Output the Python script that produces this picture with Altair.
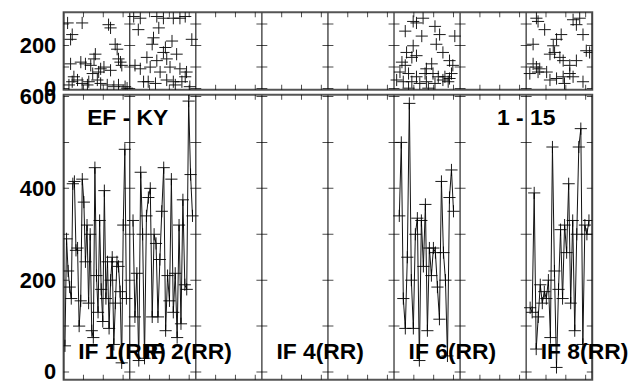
import altair as alt
import pandas as pd
import numpy as np

# ---------------- data ----------------
PANEL_COUNT = 8
IF_LABELS = ["IF 1(RR)", "IF 2(RR)", "IF 4(RR)", "IF 6(RR)", "IF 8(RR)"]
IF_LABEL_PANELS = [0, 1, 3, 5, 7]
SOURCE_TEXT = "EF - KY"
RANGE_TEXT = "1 - 15"

# bottom strip: amplitude series (sample order), panels with data
amp_if1 = [57, 290, 220, 185, 160, 410, 415, 265, 270, 100, 155, 420, 370, 240, 320, 150,
           300, 90, 75, 445, 210, 130, 330, 180, 110, 395, 160, 240, 95, 200, 250, 60,
           150, 240, 230, 175, 20, 320, 485, 160]
amp_if2 = [330, 120, 215, 25, 435, 300, 30, 340, 380, 400, 120, 300, 280, 120, 245, 350,
           445, 90, 210, 155, 420, 130, 215, 75, 320, 105, 375, 190, 180, 590, 430, 340]
amp_if6 = [340, 500, 160, 95, 250, 585, 200, 95, 300, 335, 25, 330, 230, 365, 90, 270,
           210, 270, 260, 185, 115, 415, 260, 200, 35, 380, 440, 350]
amp_if8 = [140, 130, 390, 50, 120, 190, 150, 175, 160, 200, 75, 490, 220, 10, 180, 310,
           160, 320, 260, 410, 150, 330, 90, 300, 490, 530, 60, 320, 300, 330]
amp_series = {0: amp_if1, 1: amp_if2, 5: amp_if6, 7: amp_if8}
amp_span = {0: (0.02, 0.95), 1: (0.05, 0.95), 5: (0.08, 0.90), 7: (0.06, 0.95)}

# top strip: scatter (fraction across panel, value)
top_if1_f = [0.06, 0.13, 0.28, 0.105, 0.68, 0.71, 0.78, 0.81, 0.48, 0.46, 0.26, 0.105, 0.33,
             0.41, 0.56, 0.53, 0.61, 0.83, 0.86, 0.88, 0.155, 0.13, 0.21, 0.28, 0.36, 0.38,
             0.51, 0.56, 0.66, 0.76, 0.83, 0.93, 0.96, 0.08, 0.71, 0.44]
top_if1_v = [305, 251, 305, 229, 297, 282, 206, 183, 160, 138, 123, 115, 115,
             108, 92, 77, 100, 138, 123, 108, 55, 32, 40, 24, 17, 32,
             40, 24, 17, 9, 17, 9, 2, 17, 85, 70]
top_if2_f = [0.06, 0.16, 0.41, 0.51, 0.66, 0.76, 0.84, 0.13, 0.44, 0.36, 0.54, 0.64, 0.34,
             0.51, 0.71, 0.26, 0.41, 0.56, 0.08, 0.16, 0.31, 0.46, 0.61, 0.76, 0.86, 0.21,
             0.28, 0.39, 0.56, 0.66, 0.79, 0.69, 0.94, 0.91, 0.84]
top_if2_v = [335, 327, 335, 327, 327, 327, 335, 274, 282, 236, 191, 221, 206,
             168, 160, 145, 130, 138, 108, 92, 100, 77, 100, 92, 77, 32,
             32, 24, 40, 32, 32, 17, 229, 9, 55]
top_if6_f = [0.17, 0.29, 0.44, 0.34, 0.42, 0.62, 0.69, 0.92, 0.29, 0.64, 0.74, 0.19, 0.27,
             0.34, 0.12, 0.17, 0.57, 0.49, 0.84, 0.89, 0.09, 0.22, 0.34, 0.47, 0.59, 0.67,
             0.77, 0.84, 0.87, 0.04, 0.14, 0.27, 0.39, 0.49, 0.62, 0.74, 0.82, 0.22, 0.52]
top_if6_v = [267, 312, 327, 305, 244, 289, 251, 244, 199, 206, 168, 168, 145,
             153, 123, 108, 115, 92, 130, 108, 77, 70, 55, 70, 70, 55,
             55, 47, 70, 40, 32, 32, 24, 32, 24, 40, 32, 2, 2]
top_if8_f = [0.155, 0.18, 0.28, 0.71, 0.76, 0.81, 0.86, 0.53, 0.46, 0.41, 0.36, 0.105, 0.43,
             0.51, 0.56, 0.105, 0.155, 0.205, 0.31, 0.66, 0.76, 0.91, 0.96, 0.055, 0.18,
             0.36, 0.46, 0.56, 0.66, 0.58, 0.86, 0.71]
top_if8_v = [327, 312, 274, 320, 297, 327, 251, 251, 229, 199, 160, 206, 168,
             145, 130, 115, 100, 92, 77, 108, 130, 176, 168, 70, 77,
             40, 47, 55, 70, 24, 32, 55]
top_series = {0: (top_if1_f, top_if1_v), 1: (top_if2_f, top_if2_v),
              5: (top_if6_f, top_if6_v), 7: (top_if8_f, top_if8_v)}

TOP_DOMAIN = [-5, 355]
BOT_DOMAIN = [-17, 604]
TOP_TICKS = [0, 100, 200, 300]
BOT_TICKS = [0, 100, 200, 300, 400, 500, 600]
TOP_LABELS = [0, 200]
BOT_LABELS = [0, 200, 400, 600]
X_TICK_FRACS = [0.3, 0.6, 0.9]

# ---------------- tables ----------------
rows = []
for p, vals in amp_series.items():
    a, b = amp_span[p]
    n = len(vals)
    for i, v in enumerate(vals):
        rows.append({"panel": p, "x": p + a + (b - a) * i / (n - 1), "v": v})
bot_df = pd.DataFrame(rows)

rows = []
for p, (fs, vs) in top_series.items():
    for f, v in zip(fs, vs):
        rows.append({"panel": p, "x": p + f, "v": v})
top_df = pd.DataFrame(rows)

bounds_df = pd.DataFrame({"b": list(range(PANEL_COUNT + 1))})
bot_cross = pd.DataFrame([{"b": b, "t": t} for b in range(PANEL_COUNT + 1) for t in BOT_TICKS])
top_cross = pd.DataFrame([{"b": b, "t": t} for b in range(PANEL_COUNT + 1) for t in TOP_TICKS])
xt = [p + f for p in range(PANEL_COUNT) for f in X_TICK_FRACS]
bot_xt = pd.DataFrame([{"x": x, "y": y} for x in xt for y in BOT_DOMAIN])
top_xt = pd.DataFrame([{"x": x, "y": y} for x in xt for y in TOP_DOMAIN])

lab_df = pd.DataFrame({"x": [p + 0.22 for p in IF_LABEL_PANELS], "y": [29] * len(IF_LABELS),
                       "label": IF_LABELS})
hdr_df = pd.DataFrame({"x": [0.97, 7.0], "y": [539, 539], "label": [SOURCE_TEXT, RANGE_TEXT]})

# ---------------- chart ----------------
W, H_TOP, H_BOT = 532, 78, 287
FONT = "Liberation Sans"
PLUS = "M-1,0L1,0M0,-1L0,1"

xs = alt.Scale(domain=[0, PANEL_COUNT], nice=False, zero=False)
ys_top = alt.Scale(domain=TOP_DOMAIN, nice=False, zero=False)
ys_bot = alt.Scale(domain=BOT_DOMAIN, nice=False, zero=False)


def yaxis(vals):
    return alt.Axis(values=vals, title=None, domain=False, ticks=False, grid=False,
                    labelFont=FONT, labelFontWeight="bold", labelFontSize=22,
                    labelColor="black", labelPadding=8)


def X(field):
    return alt.X(field, type="quantitative", scale=xs, axis=None)


def strip(df, ys, ticks_df, xt_df, labels, height, with_line):
    layers = []
    Y = lambda f: alt.Y(f, type="quantitative", scale=ys, axis=yaxis(labels))
    layers.append(alt.Chart(bounds_df).mark_rule(color="#444", strokeWidth=1.4)
                  .encode(x=X("b")))
    layers.append(alt.Chart(ticks_df).mark_tick(orient="horizontal", size=11, thickness=1,
                                                color="black", clip=True)
                  .encode(x=X("b"), y=Y("t")))
    layers.append(alt.Chart(xt_df).mark_tick(orient="vertical", size=10, thickness=1,
                                             color="black", clip=True)
                  .encode(x=X("x"), y=Y("y")))
    if with_line:
        layers.append(alt.Chart(df).mark_line(color="#111", strokeWidth=1, clip=True)
                      .encode(x=X("x"), y=Y("v"), detail="panel:N"))
    layers.append(alt.Chart(df).mark_point(shape=PLUS, size=150, filled=False, clip=True,
                                           color="black", strokeWidth=1, opacity=0.9)
                  .encode(x=X("x"), y=Y("v")))
    return alt.layer(*layers).properties(width=W, height=height)


top = strip(top_df, ys_top, top_cross, top_xt, TOP_LABELS, H_TOP, False)
bottom = strip(bot_df, ys_bot, bot_cross, bot_xt, BOT_LABELS, H_BOT, True)

Yb = lambda f: alt.Y(f, type="quantitative", scale=ys_bot, axis=yaxis(BOT_LABELS))
labels = alt.Chart(lab_df).mark_text(align="left", baseline="alphabetic", font=FONT,
                                     fontWeight="bold", fontSize=23, color="black").encode(
    x=X("x"), y=Yb("y"), text="label:N")
headers = alt.Chart(hdr_df).mark_text(align="center", baseline="alphabetic", font=FONT,
                                      fontWeight="bold", fontSize=23, color="black").encode(
    x=X("x"), y=Yb("y"), text="label:N")
bottom = alt.layer(bottom, labels, headers)

chart = alt.vconcat(top, bottom, spacing=5, bounds="flush").properties(
    padding={"left": 10, "top": 1, "right": 0, "bottom": 0},
    background="white",
).configure_view(stroke="#555", strokeWidth=2)

chart.save("out.html", embed_options={"renderer": "svg", "actions": False})
